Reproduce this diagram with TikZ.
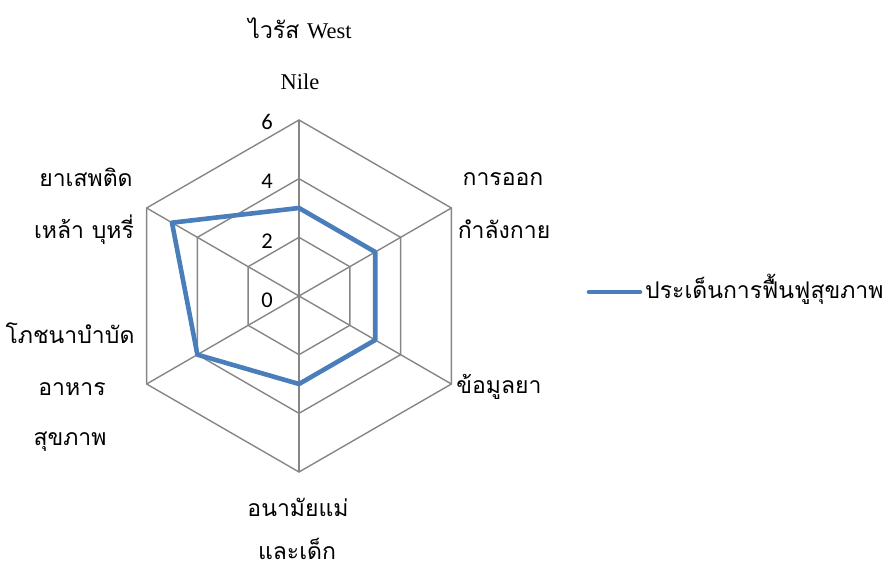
\documentclass[tikz,border=0pt]{standalone}
\usepackage{fontspec}
\setmainfont{Liberation Serif}
\newfontfamily\thaifont[Script=Thai]{Loma}
\newfontfamily\numfont{Carlito}
\definecolor{gridgray}{HTML}{868686}
\definecolor{seriesblue}{HTML}{4A7EBB}
\begin{document}
\begin{tikzpicture}[x=1pt,y=-1pt,
  gridline/.style={draw=gridgray, line width=1.4pt},
  series/.style={draw=seriesblue, line width=4.6pt, line join=round},
  lab/.style={inner sep=0pt, anchor=base, font=\thaifont\fontsize{23}{23}\selectfont},
  latin/.style={font=\rmfamily\fontsize{22.5}{22.5}\selectfont},
  ticklab/.style={inner sep=0pt, anchor=base east, font=\numfont\fontsize{22.5}{22.5}\selectfont}]
\useasboundingbox (0,0) rectangle (890,569);
\coordinate (c) at (299,296);
\begin{scope}[shift={(299,296)}]
  \foreach \a [count=\i] in {-90,-30,30,90,150,210} {
    \coordinate (o\i) at (\a:176);
    \coordinate (m\i) at (\a:117.33);
    \coordinate (n\i) at (\a:58.67);
  }
  \coordinate (d1) at (-90:88);
  \coordinate (d2) at (-30:88);
  \coordinate (d3) at (30:88);
  \coordinate (d4) at (90:88);
  \coordinate (d5) at (150:117.33);
  \coordinate (d6) at (210:146.67);
\end{scope}
% grid
\draw[gridline] (o1) -- (o2) -- (o3) -- (o4) -- (o5) -- (o6) -- cycle;
\draw[gridline] (m1) -- (m2) -- (m3) -- (m4) -- (m5) -- (m6) -- cycle;
\draw[gridline] (n1) -- (n2) -- (n3) -- (n4) -- (n5) -- (n6) -- cycle;
\foreach \i in {1,...,6} { \draw[gridline] (c) -- (o\i); }
% series
\draw[series] (d1) -- (d2) -- (d3) -- (d4) -- (d5) -- (d6) -- cycle;
% tick labels
\node[ticklab] (t6) at (273,130) {6};
\node[ticklab] (t4) at (273,189) {4};
\node[ticklab] (t2) at (273,248) {2};
\node[ticklab] (t0) at (273,307) {0};
% category labels
\node[lab] (top1) at (300,39) {ไวรัส {\rmfamily\fontsize{22.5}{22.5}\selectfont West}};
\node[lab, latin] (top2) at (300,90) {Nile};
\node[lab] (ur1) at (503,186) {การออก};
\node[lab] (ur2) at (504,238) {กำลังกาย};
\node[lab] (lr1) at (499,393) {ข้อมูลยา};
\node[lab] (bot1) at (298,516) {อนามัยแม่};
\node[lab] (bot2) at (297,559) {และเด็ก};
\node[lab] (ll1) at (70,343) {โภชนาบำบัด};
\node[lab] (ll2) at (72,395) {อาหาร};
\node[lab] (ll3) at (70,445) {สุขภาพ};
\node[lab] (ul1) at (86,187) {ยาเสพติด};
\node[lab] (ul2) at (84,238) {เหล้า บุหรี่};
% legend
\coordinate (lg1) at (589,292);
\coordinate (lg2) at (640,292);
\draw[series, line cap=round] (lg1) -- (lg2);
\node[lab, anchor=base west] (legtxt) at (645,298) {ประเด็นการฟื้นฟูสุขภาพ};
\end{tikzpicture}
\end{document}
